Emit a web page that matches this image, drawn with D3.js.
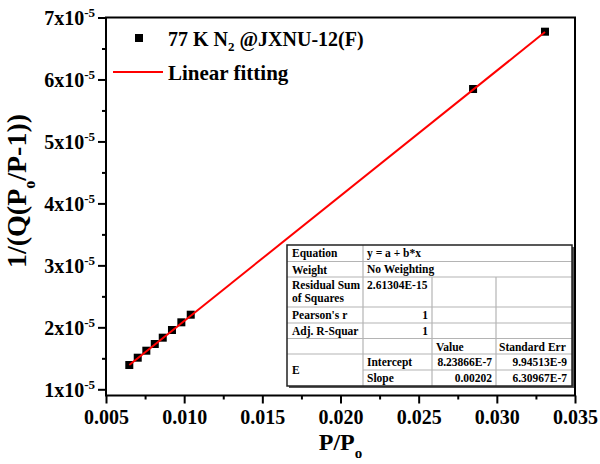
<!DOCTYPE html>
<html>
<head>
<meta charset="utf-8">
<script src="https://cdn.jsdelivr.net/npm/d3@7"></script>
<style>
  body { margin: 0; background: #fff; }
  svg { display: block; font-weight: bold; }
  svg text { font-family: "Times New Roman", "Liberation Serif", "DejaVu Serif", serif; }
</style>
</head>
<body>
<script>
// measured points: P/Po and 1/(Q(Po/P-1))
const pressure = [0.00649, 0.00703, 0.00758, 0.00812, 0.00863, 0.00922, 0.00982, 0.01042, 0.02848, 0.03308];
const bet = [1.392e-5, 1.510e-5, 1.623e-5, 1.731e-5, 1.833e-5, 1.957e-5, 2.081e-5, 2.204e-5, 5.846e-5, 6.771e-5];

// fit result
const intercept = 8.23866e-7;
const slope = 0.00202;

const xTicks = [0.005, 0.010, 0.015, 0.020, 0.025, 0.030, 0.035];
const xMinor = [0.0075, 0.0125, 0.0175, 0.0225, 0.0275, 0.0325];
const yTicks = [1e-5, 2e-5, 3e-5, 4e-5, 5e-5, 6e-5, 7e-5];
const yMinor = [1.5e-5, 2.5e-5, 3.5e-5, 4.5e-5, 5.5e-5, 6.5e-5];

const statNames = ['Equation', 'Weight', 'Residual Sum|of Squares', "Pearson's r", 'Adj. R-Squar'];
const statValues = ['y = a + b*x', 'No Weighting', '2.61304E-15', '1', '1'];
const paramNames = ['Intercept', 'Slope'];
const paramValues = ['8.23866E-7', '0.00202'];
const paramErrors = ['9.94513E-9', '6.30967E-7'];

const width = 600;
const height = 464;
const plotLeft = 106, plotRight = 575, plotTop = 17.5, plotBottom = 395.5;

function init() {
  const svg = d3.select('body')
    .append('svg')
    .attr('width', width)
    .attr('height', height);

  const x = d3.scaleLinear().domain([0.005, 0.035]).range([plotLeft, plotRight]);
  const y = d3.scaleLinear().domain([0.9e-5, 7e-5]).range([plotBottom, plotTop]);

  // axes
  const gx = svg.append('g')
    .attr('transform', `translate(0,${plotBottom})`)
    .call(d3.axisBottom(x).tickValues(xTicks).tickSize(8).tickPadding(6).tickFormat(d3.format('.3f')));
  svg.append('g')
    .attr('transform', `translate(0,${plotBottom})`)
    .call(d3.axisBottom(x).tickValues(xMinor).tickSize(4).tickFormat(''));

  const gy = svg.append('g')
    .attr('transform', `translate(${plotLeft},0)`)
    .call(d3.axisLeft(y).tickValues(yTicks).tickSize(8).tickPadding(3).tickFormat(''));
  svg.append('g')
    .attr('transform', `translate(${plotLeft},0)`)
    .call(d3.axisLeft(y).tickValues(yMinor).tickSize(4).tickFormat(''));

  svg.selectAll('.domain').remove();
  svg.selectAll('.tick line').attr('stroke', '#000').attr('stroke-width', 2);

  gx.selectAll('.tick text')
    .attr('font-size', 20)
    .attr('fill', '#000');

  gy.selectAll('.tick text')
    .attr('font-size', 20)
    .attr('fill', '#000')
    .attr('dy', '0.35em')
    .each(function(d) {
      const t = d3.select(this);
      t.append('tspan').text(`${Math.round(d * 1e5)}x10`);
      t.append('tspan').attr('font-size', 13).attr('dy', -8).text('-5');
    });

  // frame
  svg.append('rect')
    .attr('x', plotLeft)
    .attr('y', plotTop)
    .attr('width', plotRight - plotLeft)
    .attr('height', plotBottom - plotTop)
    .attr('fill', 'none')
    .attr('stroke', '#000')
    .attr('stroke-width', 2);

  // points
  svg.append('g')
    .selectAll('rect')
    .data(pressure)
    .join('rect')
    .attr('x', (d) => x(d) - 4)
    .attr('y', (d, i) => y(bet[i]) - 4)
    .attr('width', 8)
    .attr('height', 8)
    .attr('fill', '#000');

  // fit line, on top of the markers
  const x0 = d3.min(pressure), x1 = d3.max(pressure);
  svg.append('line')
    .attr('x1', x(x0))
    .attr('y1', y(intercept + slope * x0))
    .attr('x2', x(x1))
    .attr('y2', y(intercept + slope * x1))
    .attr('stroke', '#f00')
    .attr('stroke-width', 2);

  // legend
  const lg = svg.append('g').attr('font-size', 20);
  lg.append('rect')
    .attr('x', 135).attr('y', 34).attr('width', 8).attr('height', 8).attr('fill', '#000');
  const t1 = lg.append('text').attr('x', 168).attr('y', 46);
  t1.append('tspan').text('77 K N');
  t1.append('tspan').attr('font-size', 13).attr('dy', 5).text('2');
  t1.append('tspan').attr('dy', -5).text(' @JXNU-12(F)');
  lg.append('line')
    .attr('x1', 113).attr('x2', 163).attr('y1', 72).attr('y2', 72)
    .attr('stroke', '#f00').attr('stroke-width', 2);
  lg.append('text').attr('x', 168).attr('y', 80).attr('font-size', 21).text('Linear fitting');

  // axis titles
  const xt = svg.append('text')
    .attr('x', (plotLeft + plotRight) / 2)
    .attr('y', 450)
    .attr('text-anchor', 'middle')
    .attr('font-size', 24);
  xt.append('tspan').text('P/P');
  xt.append('tspan').attr('font-size', 15).attr('dy', 8).text('o');

  const yt = svg.append('text')
    .attr('transform', 'translate(26,191) rotate(-90)')
    .attr('text-anchor', 'middle')
    .attr('font-size', 28);
  yt.append('tspan').text('1/(Q(P');
  yt.append('tspan').attr('font-size', 16).attr('dy', 9).text('o');
  yt.append('tspan').attr('dy', -9).text('/P-1))');

  drawTable(svg);
}

function drawTable(svg) {
  const cx = [287, 363, 432, 496, 572];
  const ry = [245, 261.5, 277, 307, 323, 338.5, 354, 370, 386];
  const g = svg.append('g').attr('font-size', 11.5);

  g.append('rect')
    .attr('x', cx[0] + 2).attr('y', ry[0] + 2)
    .attr('width', cx[4] - cx[0]).attr('height', ry[8] - ry[0])
    .attr('fill', '#555');
  g.append('rect')
    .attr('x', cx[0]).attr('y', ry[0])
    .attr('width', cx[4] - cx[0]).attr('height', ry[8] - ry[0])
    .attr('fill', '#fff');

  const grid = '#b4b4b4';
  const hline = (yy, xa, xb) => g.append('line')
    .attr('x1', xa).attr('x2', xb).attr('y1', yy).attr('y2', yy)
    .attr('stroke', grid).attr('stroke-width', 1.2);
  const vline = (xx, ya, yb) => g.append('line')
    .attr('x1', xx).attr('x2', xx).attr('y1', ya).attr('y2', yb)
    .attr('stroke', grid).attr('stroke-width', 1.2);

  for (let i = 1; i < 7; i++) hline(ry[i], cx[0], cx[4]);
  hline(ry[7], cx[1], cx[4]);
  vline(cx[1], ry[0], ry[8]);
  vline(cx[2], ry[2], ry[8]);
  vline(cx[3], ry[2], ry[8]);

  g.append('rect')
    .attr('x', cx[0]).attr('y', ry[0])
    .attr('width', cx[4] - cx[0]).attr('height', ry[8] - ry[0])
    .attr('fill', 'none').attr('stroke', '#222').attr('stroke-width', 1.5);

  const txt = (s, xx, yy, anchor) => g.append('text')
    .attr('x', xx).attr('y', yy).attr('text-anchor', anchor || 'start').text(s);

  statNames.forEach((s, i) => {
    const parts = s.split('|');
    parts.forEach((p, k) => txt(p, cx[0] + 5, ry[i] + 12 + k * 12.5));
    const v = statValues[i];
    if (i >= 3) txt(v, cx[2] - 4, ry[i] + 12, 'end');
    else txt(v, cx[1] + 4, ry[i] + 11.5);
  });

  txt('Value', cx[2] + 4, ry[5] + 12);
  txt('Standard Err', cx[3] + 3, ry[5] + 12);
  txt('E', cx[0] + 5, ry[6] + 20);
  paramNames.forEach((s, i) => {
    txt(s, cx[1] + 4, ry[6 + i] + 12);
    txt(paramValues[i], cx[3] - 4, ry[6 + i] + 12, 'end');
    txt(paramErrors[i], cx[4] - 5, ry[6 + i] + 12, 'end');
  });
}

init();
</script>
</body>
</html>
